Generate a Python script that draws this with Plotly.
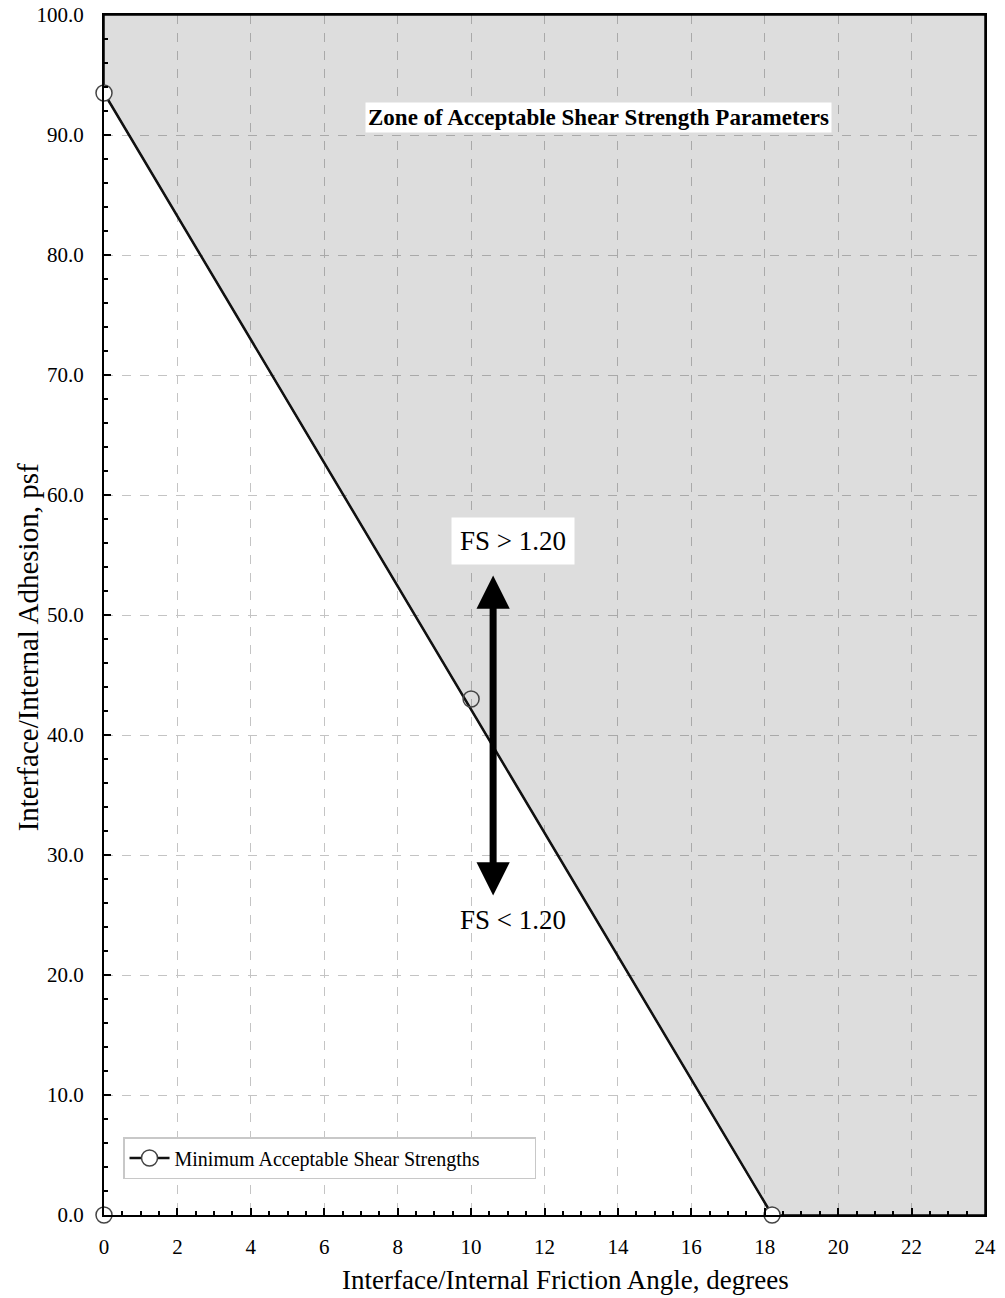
import plotly.graph_objects as go

# Data
zone_x = [0, 0, 18.2, 24, 24, 0]
zone_y = [100, 93.5, 0, 0, 100, 100]
min_x = [0, 18.2]
min_y = [93.5, 0]
pt_x = [10, 0]
pt_y = [43, 0]
x_ticks = list(range(0, 25, 2))
y_ticks = list(range(0, 101, 10))

FONT = "Liberation Serif"

fig = go.Figure()

fig.add_trace(go.Scatter(
    x=zone_x, y=zone_y, mode="lines", fill="toself",
    fillcolor="rgba(0,0,0,0.135)", line=dict(color="black", width=1.5),
    showlegend=False, hoverinfo="skip", cliponaxis=False))

fig.add_trace(go.Scatter(
    x=min_x, y=min_y, mode="lines+markers",
    name="Minimum Acceptable Shear Strengths",
    line=dict(color="#111111", width=2.5),
    marker=dict(symbol="circle", size=16, color="white",
                line=dict(color="#444444", width=1.5)),
    cliponaxis=False))

fig.add_trace(go.Scatter(
    x=pt_x, y=pt_y, mode="markers", showlegend=False,
    marker=dict(symbol="circle", size=16, color="rgba(255,255,255,0)",
                line=dict(color="#444444", width=1.5)),
    cliponaxis=False))

# Double arrow
fig.add_annotation(x=10.6, y=53.3, ax=10.6, ay=26.5, xref="x", yref="y",
                   axref="x", ayref="y", text="", showarrow=True,
                   arrowhead=2, startarrowhead=2, arrowside="end+start",
                   arrowwidth=7, arrowsize=0.95, startarrowsize=0.95,
                   arrowcolor="black", standoff=0, startstandoff=0)

fig.add_annotation(x=11.15, y=56.2, xref="x", yref="y", text="FS > 1.20",
                   showarrow=False, font=dict(family=FONT, size=27, color="black"),
                   bgcolor="white", borderpad=8)
fig.add_annotation(x=11.15, y=24.6, xref="x", yref="y", text="FS < 1.20",
                   showarrow=False, font=dict(family=FONT, size=27, color="black"))
fig.add_annotation(x=13.46, y=91.5, xref="x", yref="y",
                   text="<b>Zone of Acceptable Shear Strength Parameters</b>",
                   showarrow=False, font=dict(family=FONT, size=23, color="black"),
                   bgcolor="white", borderpad=2)

# Axis titles
fig.add_annotation(x=0.524, y=-0.054, xref="paper", yref="paper",
                   xanchor="center", yanchor="middle",
                   text="Interface/Internal Friction Angle, degrees",
                   showarrow=False, font=dict(family=FONT, size=27, color="black"))
fig.add_annotation(x=-0.0863, y=0.473, xref="paper", yref="paper", textangle=-90,
                   xanchor="center", yanchor="middle",
                   text="Interface/Internal Adhesion, psf",
                   showarrow=False, font=dict(family=FONT, size=29, color="black"))

fig.update_layout(
    width=1005, height=1298,
    margin=dict(l=104, r=20, t=15, b=83, autoexpand=False),
    paper_bgcolor="white", plot_bgcolor="white",
    font=dict(family=FONT, size=21, color="black"),
    legend=dict(x=0.0216, y=0.03, xanchor="left", yanchor="bottom",
                orientation="h", entrywidth=355, entrywidthmode="pixels",
                bgcolor="white", bordercolor="#c8c8c8", borderwidth=1.5,
                font=dict(family=FONT, size=20), itemwidth=40),
)

fig.update_xaxes(
    range=[0, 24], tickvals=x_ticks, ticks="inside", ticklen=7, tickwidth=1.5,
    tickcolor="black", showline=True, linecolor="black", linewidth=2, mirror=True,
    showgrid=True, gridcolor="#c4c4c4", griddash="dash", gridwidth=1,
    zeroline=False, tickfont=dict(family=FONT, size=21), ticklabelstandoff=12,
    automargin=False, ticklabeloverflow="allow",
    minor=dict(dtick=0.5, ticks="inside", ticklen=4, tickcolor="black", showgrid=False))

fig.update_yaxes(
    range=[0, 100], tickvals=y_ticks, tickformat=".1f", ticks="inside", ticklen=7,
    tickwidth=1.5, tickcolor="black", showline=True, linecolor="black", linewidth=2,
    mirror=True, showgrid=True, gridcolor="#c4c4c4", griddash="dash", gridwidth=1,
    zeroline=False, tickfont=dict(family=FONT, size=21), ticklabelstandoff=14,
    automargin=False, ticklabeloverflow="allow",
    minor=dict(dtick=2, ticks="inside", ticklen=4, tickcolor="black", showgrid=False))

fig.write_html("out.html", config={"displayModeBar": False},
               post_script="document.body.style.margin='0';")
